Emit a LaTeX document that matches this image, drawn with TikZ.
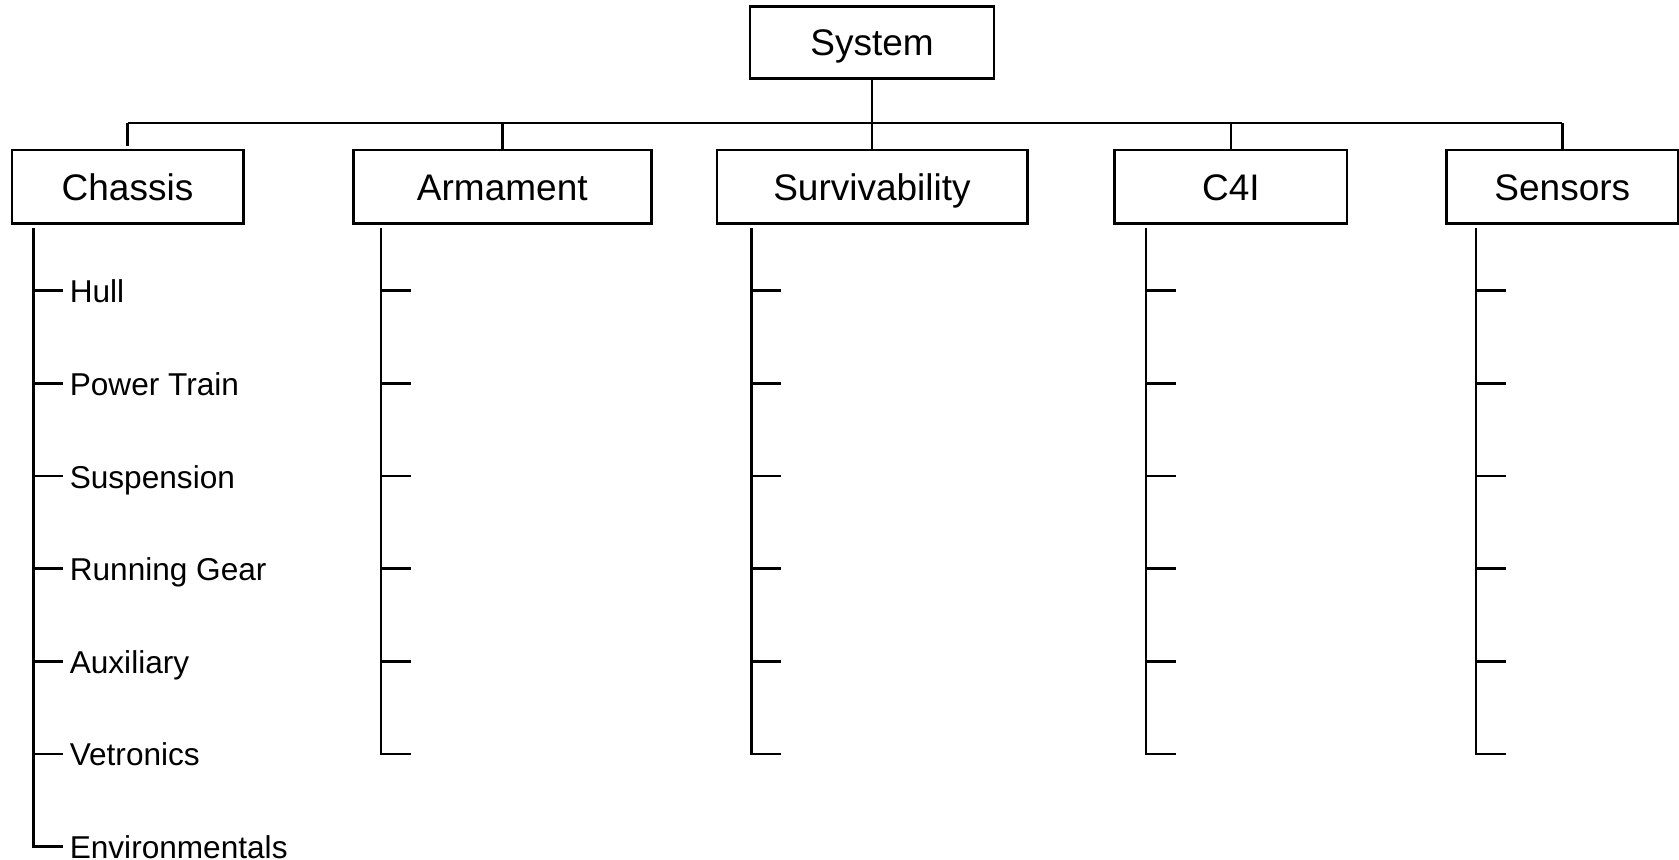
\documentclass[tikz,border=0pt]{standalone}
\usepackage{fontspec}
\setmainfont{Liberation Sans}
\begin{document}
\begin{tikzpicture}[x=0.5pt,y=-0.5pt,
  line width=1.3pt,
  box/.style={draw, rectangle, inner sep=0pt, minimum height=36.85pt,
    text height=13.2pt, text depth=0pt,
    font=\fontsize{18.5}{20}\selectfont},
  item/.style={inner sep=0pt, anchor=base west, font=\fontsize{15.8}{18}\selectfont}]
\useasboundingbox (0,0) rectangle (1679,860);

% top of the breakdown
\node[box, minimum width=121.95pt, minimum height=35.9pt] (sys) at (872,42.4) {System};

% second level
\node[box, minimum width=115.7pt] (chas) at (127.5,186.85) {Chassis};
\node[box, minimum width=149.1pt] (arm)  at (502.3,186.85) {Armament};
\node[box, minimum width=155.2pt] (surv) at (872,186.85) {Survivability};
\node[box, minimum width=116.2pt] (cfi)  at (1230.9,186.85) {C4I};
\node[box, minimum width=115.55pt] (sens) at (1562.3,186.85) {Sensors};

% bus between the levels
\coordinate (busy) at (0,123);
\draw (sys) -- (surv);
\draw (chas.north |- busy) -- (sens.north |- busy);
\draw (chas.north |- busy) -- ++(0,23);
\foreach \n in {arm,cfi,sens}
  \draw (\n.north |- busy) -- (\n.north);

% empty third-level spines with six ticks each
\foreach \n/\sx in {arm/381,surv/751.4,cfi/1146,sens/1476}{
  \coordinate (\n-top) at (\sx,228.3);
  \coordinate (\n-end) at (\sx,753.8);
  \draw (\n-top) -- (\n-end) -- ++(30,0);
  \foreach \k in {0,...,4}
    \draw (\sx,290.8+92.6*\k) -- ++(30,0);
}

% chassis spine with its named parts
\coordinate (chas-top) at (33.5,228.3);
\coordinate (chas-end) at (33.5,846.4);
\draw (chas-top) -- (chas-end) -- ++(29,0);
\foreach \t [count=\i from 0] in {Hull,Power Train,Suspension,Running Gear,Auxiliary,Vetronics,Environmentals}{
  \ifnum\i<6
    \draw (33.5,290.8+92.6*\i) -- ++(29,0);
  \fi
  \node[item] (chas-\i) at (68.5,302.8+92.6*\i) {\t};
}
\end{tikzpicture}
\end{document}
